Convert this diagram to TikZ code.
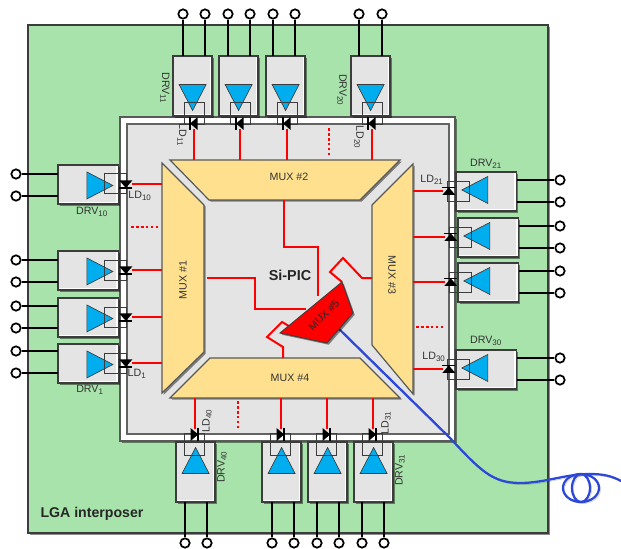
\documentclass[tikz,border=0pt]{standalone}
\usepackage{fontspec}
\setmainfont{Liberation Sans}
\usetikzlibrary{calc, shadows}
\definecolor{lgagreen}{HTML}{A8E3AB}
\definecolor{chipgray}{HTML}{E4E4E4}
\definecolor{muxyellow}{HTML}{FEE08F}
\definecolor{ampblue}{HTML}{00AEEF}
\definecolor{fiberblue}{HTML}{2B48D8}
\definecolor{edgegray}{HTML}{3C3C3C}
\definecolor{txtgray}{HTML}{333333}
\tikzset{
  shade/.style={drop shadow={shadow xshift=1.3pt, shadow yshift=-1.3pt, fill=black, opacity=0.45}},
  muxbox/.style={draw=edgegray!85, line width=0.9pt, fill=muxyellow, shade},
  drvbox/.style={draw=edgegray, line width=1.1pt, fill=chipgray, shade, inner sep=0pt, outer sep=0pt,
    path picture={\draw[white, line width=3.4pt]
      (path picture bounding box.south west) -- (path picture bounding box.south east)
      -- (path picture bounding box.north east);}},
  drvh/.style={drvbox, minimum width=45.5pt, minimum height=29.2pt, anchor=north west},
  drvv/.style={drvbox, minimum width=29.4pt, minimum height=45pt, anchor=north west},
  pinnode/.style={circle, draw=black, line width=1.3pt, fill=white, inner sep=0pt, minimum size=7pt},
  sigwire/.style={draw=black, line width=1.4pt},
  redwire/.style={draw=red, line width=1.5pt},
  ldwire/.style={redwire, shorten <=4.5pt},
  dotwire/.style={draw=red, line width=1.5pt, dash pattern=on 2pt off 1.7pt},
  fiberwire/.style={draw=fiberblue, line width=1.7pt, preaction={draw=black, opacity=0.2, transform canvas={xshift=1.2pt, yshift=-1.2pt}}},
  lbl/.style={font=\fontsize{8}{9}\selectfont, text=txtgray, inner sep=0pt},
  amp/.pic={
    \draw[edgegray, line width=0.5pt, fill=ampblue] (-13,-13.5) -- (13,0) -- (-13,13.5) -- cycle;
    \draw[edgegray, line width=0.7pt] (5,-11.5) rectangle (27,8.5);
    \coordinate (-ld) at (26,-1);
    \fill[black] (19.5,-5) -- (32.5,-5) -- (26,2.5) -- cycle;
    \draw[black, line width=1.1pt] (19.5,2.5) -- (32.5,2.5);
  }
}
\begin{document}
\begin{tikzpicture}[x=0.75pt, y=-0.75pt]
  \useasboundingbox (0,0) rectangle (621,549);
  % board and chip
  \draw[draw=edgegray, line width=1.1pt, fill=lgagreen, shade] (28,25) rectangle (548,533);
  \draw[draw=edgegray!85, line width=1.1pt, fill=white, shade] (120,117) rectangle (455,441);
  \draw[draw=edgegray!80, line width=1pt, fill=chipgray] (127,124) rectangle (449,434);
  \node[font=\fontsize{10.6}{12}\selectfont\bfseries, text=black!85, inner sep=0pt] (lga) at (92,514) {LGA interposer};

  % the four big muxes
  \draw[muxbox] (162,163) coordinate (m1) -- (204,205) -- (204,352) -- (162,393) -- cycle;
  \draw[muxbox] (170,160) coordinate (m2) -- (400,160) -- (360,200) -- (209,200) -- cycle;
  \draw[muxbox] (413,164) coordinate (m3) -- (413,394) -- (372,345) -- (372,205) -- cycle;
  \draw[muxbox] (210,358) -- (360,358) -- (400,398) coordinate (m4) -- (170,398) -- cycle;
  \node[lbl, text=black!80] (mux2) at (289,177) {MUX \#2};
  \node[lbl, text=black!80] (mux4) at (290,378) {MUX \#4};
  \node[lbl, text=black!80, rotate=90] (mux1) at (183,280) {MUX \#1};
  \node[lbl, text=black!80, rotate=-90] (mux3) at (392,275) {MUX \#3};
  \node[font=\fontsize{10.8}{12}\selectfont\bfseries, text=black!85, inner sep=0pt] (sipic) at (290,275) {Si-PIC};

  % drivers, top
  \foreach \n/\x/\a/\b in {11/173/183/205, 12/219/228/250, 13/266/273/295, 20/351/359/382} {
    \node[drvv] (drv\n) at (\x,56) {};
    \pic[rotate=-90] (amp\n) at ($(drv\n.center)+(0,11.5)$) {amp};
    \node[pinnode] (p\n a) at (\a,14) {};
    \node[pinnode] (p\n b) at (\b,14) {};
    \draw[sigwire] (p\n a) -- (p\n a |- drv\n.north);
    \draw[sigwire] (p\n b) -- (p\n b |- drv\n.north);
    \draw[ldwire] (amp\n-ld) -- (amp\n-ld |- m2);
  }
  % drivers, left
  \foreach \n/\y/\a/\b in {10/165/174/196, 3/251/260/282, 2/298/306/328, 1/344/351/373} {
    \node[drvh] (drv\n) at (58,\y) {};
    \pic (amp\n) at ($(drv\n.center)+(11.5,1)$) {amp};
    \node[pinnode] (p\n a) at (16,\a) {};
    \node[pinnode] (p\n b) at (16,\b) {};
    \draw[sigwire] (p\n a) -- (p\n a -| drv\n.west);
    \draw[sigwire] (p\n b) -- (p\n b -| drv\n.west);
    \draw[ldwire] (amp\n-ld) -- (amp\n-ld -| m1);
  }
  % drivers, right
  \foreach \n/\x/\y/\a/\b in {21/456/172/180/202, 22/458/218/226/248, 23/458/263/271/293, 30/456/350/358/380} {
    \node[drvh] (drv\n) at (\x,\y) {};
    \pic[rotate=180] (amp\n) at ($(drv\n.center)+(-11.5,-1.5)$) {amp};
    \node[pinnode] (p\n a) at (560,\a) {};
    \node[pinnode] (p\n b) at (560,\b) {};
    \draw[sigwire] (p\n a) -- (p\n a -| drv\n.east);
    \draw[sigwire] (p\n b) -- (p\n b -| drv\n.east);
    \draw[ldwire] (amp\n-ld) -- (amp\n-ld -| m3);
  }
  % drivers, bottom
  \foreach \n/\x/\a/\b in {40/176/185/207, 33/262/272/294, 32/308/317/339, 31/354/362/384} {
    \node[drvv] (drv\n) at (\x,442) {};
    \pic[rotate=90] (amp\n) at ($(drv\n.center)+(0,-11.5)$) {amp};
    \node[pinnode] (p\n a) at (\a,543) {};
    \node[pinnode] (p\n b) at (\b,543) {};
    \draw[sigwire] (p\n a) -- (p\n a |- drv\n.south);
    \draw[sigwire] (p\n b) -- (p\n b |- drv\n.south);
    \draw[ldwire] (amp\n-ld) -- (amp\n-ld |- m4);
  }

  % elided channels
  \coordinate (dotl) at (131,227);
  \coordinate (dott) at (329,128);
  \coordinate (dotr) at (416,327);
  \coordinate (dotb) at (238,401);
  \draw[dotwire] (dotl) -- ++(29,0);
  \draw[dotwire] (dott) -- ++(0,29);
  \draw[dotwire] (dotr) -- ++(28,0);
  \draw[dotwire] (dotb) -- ++(0,28);

  % fibre, goes under MUX #5
  \coordinate (fibstart) at (335,325);
  \coordinate (fibend) at (621,481);
  \coordinate (coil) at (581,488);
  \draw[fiberwire]
    (fibstart) -- (450,438) .. controls (480,470) and (492,483) .. (520,483)
    .. controls (545,483) and (565,474) .. (590,474) .. controls (603,474) and (612,476) .. (fibend);
  \draw[fiberwire] (coil) ellipse (18 and 14) (coil) ellipse (9 and 14);

  % MUX #5 and its links
  \coordinate (m5a) at (342,282);
  \coordinate (m5b) at (280,333);
  \coordinate (m5c) at (294,329);
  \draw[redwire] (284,200) -- (284,247) -- (318,247) -- (318,296);
  \draw[redwire] (207,278) -- (255,278) -- (255,309) -- (306,309);
  \draw[redwire] (372,278) -- (362,278) -- (343,258) -- (330,272) -- (m5a);
  \draw[redwire] (283,358) -- (283,347) -- (267,337) -- (282,322) -- (m5c);
  \draw[draw=edgegray, line width=0.7pt, fill=red, shade] (m5a) -- (353,313) -- (327,343) -- (m5b) -- cycle;
  \node[lbl, text=black!85, rotate=45] (mux5) at (324,315) {MUX \#5};

  % labels
  \foreach \n/\t/\x/\y/\r in {
    a/DRV\textsubscript{11}/165/88/-90, b/LD\textsubscript{11}/182/135/-90,
    c/DRV\textsubscript{20}/342/90/-90, d/LD\textsubscript{20}/359/137/-90,
    e/DRV\textsubscript{10}/92/212/0, f/LD\textsubscript{10}/140/196/0,
    g/DRV\textsubscript{1}/90/390/0, h/LD\textsubscript{1}/137/374/0,
    i/DRV\textsubscript{40}/222/467/90, j/LD\textsubscript{40}/207/421/90,
    k/DRV\textsubscript{31}/400/470/90, l/LD\textsubscript{31}/386/423/90,
    m/DRV\textsubscript{21}/486/164/0, o/LD\textsubscript{21}/432/180/0,
    q/DRV\textsubscript{30}/486/341/0, r/LD\textsubscript{30}/434/357/0} {
    \node[lbl, rotate=\r] (lbl\n) at (\x,\y) {\t};
  }
\end{tikzpicture}
\end{document}
